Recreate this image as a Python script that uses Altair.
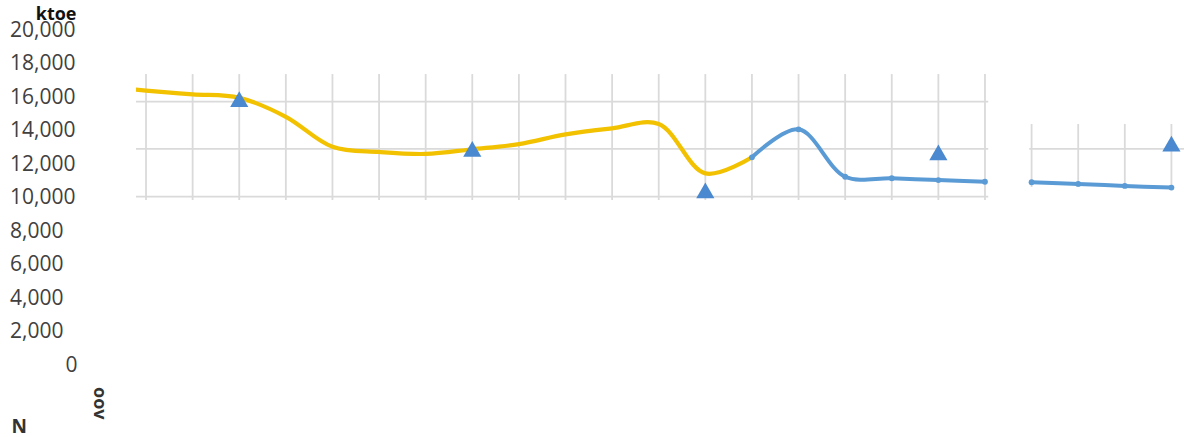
import altair as alt
import pandas as pd

# Energy consumption, ktoe
years_hist = [2000, 2001, 2002, 2003, 2004, 2005, 2006, 2007, 2008, 2009,
              2010, 2011, 2012, 2013, 2014]
ktoe_hist = [16650, 16380, 16160, 15950, 14820, 13030, 12720, 12600, 12880,
             13190, 13770, 14130, 14390, 11440, 12400]

years_proj_a = [2014, 2015, 2016, 2017, 2018, 2019]
ktoe_proj_a = [12400, 14070, 11240, 11150, 11040, 10940]
years_proj_b = [2020, 2021, 2022, 2023]
ktoe_proj_b = [10910, 10810, 10690, 10590]

target_years = [2003, 2008, 2013, 2018, 2023]
target_ktoe = [15880, 12900, 10420, 12700, 13210]

# Grid layout of the plotting panels (in data units)
main_grid_years = list(range(2001, 2020))
main_grid_span = (9850, 17370)
main_grid_levels = [10050, 12900, 15720]
main_grid_x = (2000.785, 2019.07)
side_grid_years = [2020, 2021, 2022, 2023]
side_grid_span = (10630, 14390)
side_grid_levels = [12900]
side_grid_x = (2019.95, 2023.27)

x_domain = [2000.785, 2023.27]
y_ticks = list(range(0, 20001, 2000))

YELLOW = "#F2C100"
BLUE = "#5B9BD5"
TRI = "#4A89CF"
GRID = "#DADADA"
FONT = "Open Sans"

hist = pd.DataFrame({"year": years_hist, "value": ktoe_hist})
proj = pd.DataFrame({
    "year": years_proj_a + years_proj_b,
    "value": ktoe_proj_a + ktoe_proj_b,
    "seg": ["a"] * len(years_proj_a) + ["b"] * len(years_proj_b),
})
targets = pd.DataFrame({"year": target_years, "value": target_ktoe})

vgrid = pd.DataFrame(
    [{"year": y, "value": main_grid_span[1], "value2": main_grid_span[0]} for y in main_grid_years]
    + [{"year": y, "value": side_grid_span[1], "value2": side_grid_span[0]} for y in side_grid_years]
)
hgrid = pd.DataFrame(
    [{"value": v, "year": main_grid_x[0], "year2": main_grid_x[1]} for v in main_grid_levels]
    + [{"value": v, "year": side_grid_x[0], "year2": side_grid_x[1]} for v in side_grid_levels]
)
year_label = pd.DataFrame({"year": [2000], "label": ["oov"]})

x_scale = alt.Scale(domain=x_domain, nice=False, zero=False)
y_scale = alt.Scale(domain=[0, 20000], nice=False)

x_axis = alt.Axis(
    labels=False, ticks=False, domain=False, grid=False,
    title="N", titleAngle=0, titleAlign="left", titleBaseline="alphabetic",
    titleX=-125, titleY=67, titleFont=FONT, titleFontSize=19,
    titleFontWeight="bold", titleColor="#333333",
)
# Tick labels start at a common left edge; the zero label sits flush right.
y_axis = alt.Axis(
    values=y_ticks, labelExpr="format(datum.value, ',')", grid=False,
    domain=False, ticks=False, tickSize=0,
    labelAlign={"condition": {"test": "datum.value === 0", "value": "right"}, "value": "left"},
    labelPadding={"condition": {"test": "datum.value === 0", "value": 59}, "value": 126.5},
    labelFont=FONT, labelFontSize=21, labelColor="#404040", labelOverlap=False,
    title="ktoe", titleAngle=0, titleAlign="right", titleBaseline="alphabetic",
    titleX=-60, titleY=-11, titleFont=FONT, titleFontSize=18,
    titleFontWeight="bold", titleColor="#111111",
)

X = alt.X("year:Q", scale=x_scale, axis=x_axis)
Y = alt.Y("value:Q", scale=y_scale, axis=y_axis)

v_rules = alt.Chart(vgrid).mark_rule(color=GRID, strokeWidth=1.8).encode(
    x=X, y=Y, y2="value2:Q"
)
h_rules = alt.Chart(hgrid).mark_rule(color=GRID, strokeWidth=1.8).encode(
    x=X, x2="year2:Q", y=Y
)

hist_line = alt.Chart(hist).mark_line(
    color=YELLOW, strokeWidth=4.2, interpolate="catmull-rom", clip=True
).encode(x=X, y=Y)

proj_line = alt.Chart(proj).mark_line(
    color=BLUE, strokeWidth=4, interpolate="catmull-rom",
    point=alt.OverlayMarkDef(color=BLUE, size=34, filled=True, opacity=1),
).encode(x=X, y=Y, detail="seg:N")

target_pts = alt.Chart(targets).mark_point(
    shape="triangle-up", size=330, filled=True, color=TRI, opacity=1
).encode(x=X, y=Y)

year_text = alt.Chart(year_label).mark_text(
    angle=90, align="left", baseline="middle", font=FONT, fontSize=18,
    fontWeight="bold", color="#333333", dx=-1,
).encode(x=X, y=alt.value(358), text="label:N")

chart = alt.layer(
    v_rules, h_rules, hist_line, proj_line, target_pts, year_text
).properties(
    width=1048,
    height=335,
    autosize=alt.AutoSizeParams(type="none"),
    padding={"left": 136, "top": 30, "right": 0, "bottom": 72},
).configure_view(stroke=None)

chart.save("out.html", embed_options={"renderer": "svg", "actions": False})
